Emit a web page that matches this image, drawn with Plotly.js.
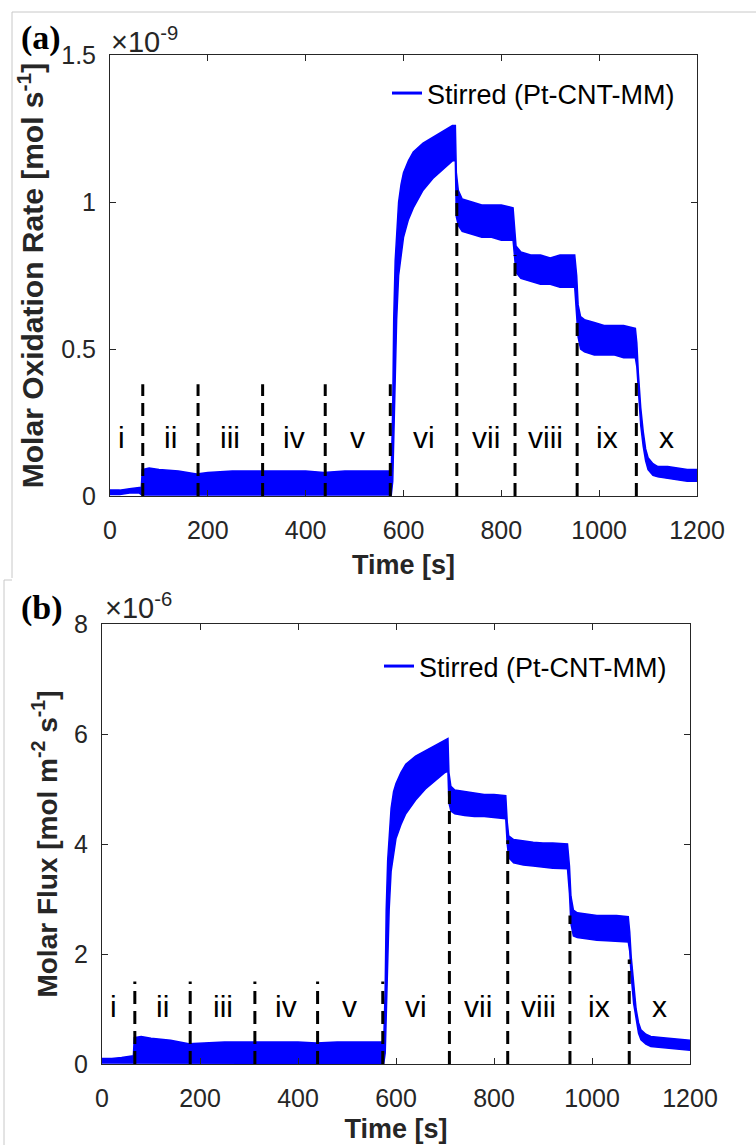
<!DOCTYPE html>
<html>
<head>
<meta charset="utf-8">
<script src="https://cdn.plot.ly/plotly-3.0.1.min.js"></script>
<style>html,body{margin:0;padding:0;background:#fff;}#chart{width:756px;height:1145px;}</style>
</head>
<body>
<div id="chart"></div>
<script>
// ---------- DATA ----------
// Time grid [s]
const timeA = [0,20,40,60,64,66,80,100,140,177,200,250,311,350,400,437,480,530,575,578,580,583,586,590,595,600,610,620,640,660,680,700,706,708,712,720,740,760,780,800,824,827,830,840,860,880,900,920,950,954,957,962,970,990,1010,1030,1050,1074,1077,1080,1085,1090,1095,1100,1110,1120,1140,1160,1180,1200];
// Panel (a): molar oxidation rate band, x1e-9 mol s^-1 (upper / lower edge of the noisy trace)
const rateUpper = [0.02,0.02,0.025,0.03,0.03,0.09,0.095,0.09,0.085,0.075,0.08,0.085,0.085,0.085,0.085,0.08,0.085,0.085,0.085,0.3,0.6,0.8,0.9,1.0,1.06,1.1,1.14,1.17,1.2,1.22,1.24,1.26,1.26,1.1,1.04,1.01,1.0,0.99,0.99,0.99,0.98,0.9,0.85,0.83,0.82,0.82,0.81,0.82,0.82,0.75,0.65,0.61,0.6,0.59,0.58,0.58,0.58,0.57,0.52,0.42,0.3,0.22,0.16,0.13,0.11,0.1,0.1,0.095,0.09,0.09];
const rateLower = [0.005,0.005,0.01,0.01,0.005,0.003,0.003,0.003,0.003,0.003,0.003,0.003,0.003,0.003,0.003,0.003,0.003,0.003,0.003,0.05,0.2,0.45,0.6,0.75,0.82,0.88,0.94,0.98,1.04,1.08,1.11,1.14,1.14,0.95,0.92,0.9,0.89,0.88,0.88,0.87,0.87,0.8,0.76,0.74,0.73,0.72,0.72,0.71,0.71,0.62,0.54,0.5,0.49,0.48,0.48,0.48,0.47,0.47,0.44,0.35,0.24,0.17,0.12,0.09,0.07,0.065,0.06,0.055,0.05,0.05];
// Panel (b): molar flux band, x1e-6 mol m^-2 s^-1
const timeB = [0,20,40,60,64,66,80,100,140,177,200,250,311,350,400,437,480,530,575,578,580,583,586,590,595,600,610,620,640,660,680,700,706,708,712,720,740,760,780,800,824,827,830,840,860,880,900,920,950,954,957,962,970,990,1010,1030,1050,1074,1077,1080,1085,1090,1095,1100,1110,1120,1140,1160,1180,1200];
const fluxUpper = [0.1,0.1,0.12,0.14,0.15,0.48,0.5,0.47,0.43,0.37,0.38,0.4,0.4,0.4,0.4,0.38,0.4,0.4,0.4,1.4,2.8,3.7,4.2,4.65,4.95,5.1,5.3,5.45,5.6,5.7,5.8,5.9,5.92,5.3,5.05,4.98,4.95,4.92,4.9,4.9,4.88,4.4,4.15,4.08,4.05,4.03,4.02,4.02,4.0,3.6,3.05,2.8,2.75,2.72,2.7,2.7,2.7,2.68,2.4,1.95,1.4,1.0,0.75,0.62,0.54,0.5,0.48,0.46,0.44,0.43];
const fluxLower = [0.02,0.02,0.02,0.02,0.02,0.01,0.01,0.01,0.01,0.01,0.01,0.01,0.01,0.01,0.01,0.01,0.01,0.01,0.01,0.2,0.9,2.1,2.8,3.5,3.8,4.1,4.35,4.55,4.8,5.0,5.15,5.3,5.32,4.75,4.6,4.55,4.52,4.5,4.5,4.48,4.46,4.0,3.75,3.66,3.62,3.6,3.58,3.56,3.55,3.1,2.55,2.33,2.3,2.27,2.25,2.24,2.23,2.22,2.05,1.6,1.1,0.8,0.56,0.44,0.36,0.32,0.3,0.28,0.26,0.25];
// Stage boundaries [s] and dashed-line heights
const boundaries = [67,180,312,440,573,709,828,955,1076];
const dashTopA = [0.38,0.38,0.38,0.38,0.38,1.04,0.82,0.6,0.4];
const dashTopB = [1.5,1.5,1.5,1.5,1.5,5.0,4.07,2.7,1.9];
// Stage labels
const stageLabels = ['i','ii','iii','iv','v','vi','vii','viii','ix','x'];
const stageX = [24,123,246,376,506,641,768,891,1015,1138];
const stageYA = 0.2;
const stageYB = 1.04;
const xTicks = [0,200,400,600,800,1000,1200];
const yTicksA = [0,0.5,1,1.5];
const yTicksB = [0,2,4,6,8];
const seriesName = 'Stirred (Pt-CNT-MM)';

// ---------- STYLE ----------
const W = 756, H = 1145;
const px = v => v / W, py = v => 1 - v / H;
const FONT = 'Liberation Sans, Arial, Helvetica, sans-serif';
const AX = '#262626';
const BLUE = '#0000ff';

function band(x, up, lo, xa, ya, legend) {
  return [
    {x: x, y: lo, xaxis: xa, yaxis: ya, type: 'scatter', mode: 'lines',
     line: {color: BLUE, width: 1.5}, showlegend: false, hoverinfo: 'skip'},
    {x: x, y: up, xaxis: xa, yaxis: ya, type: 'scatter', mode: 'lines', fill: 'tonexty',
     fillcolor: BLUE, line: {color: BLUE, width: 1.5}, showlegend: false, hoverinfo: 'skip'},
    // legend entry for the series (line sample only)
    {x: [null], y: [null], xaxis: xa, yaxis: ya, type: 'scatter', mode: 'lines',
     line: {color: BLUE, width: 3}, name: seriesName, showlegend: true, legend: legend, hoverinfo: 'skip'}
  ];
}

const traces = [].concat(
  band(timeA, rateUpper, rateLower, 'x', 'y', 'legend'),
  band(timeB, fluxUpper, fluxLower, 'x2', 'y2', 'legend2')
);

const shapes = [];
boundaries.forEach((b, i) => {
  shapes.push({type: 'line', xref: 'x', yref: 'y', x0: b, x1: b, y0: 0, y1: dashTopA[i],
    line: {color: '#000', width: 3, dash: '13px,7px'}});
  shapes.push({type: 'line', xref: 'x2', yref: 'y2', x0: b, x1: b, y0: 0, y1: dashTopB[i],
    line: {color: '#000', width: 3, dash: '13px,7px'}});
});
// light gray image frames
const G = {color: '#c8c8c8', width: 1};
shapes.push({type: 'line', xref: 'paper', yref: 'paper', x0: px(12), x1: 1, y0: py(12), y1: py(12), line: G});
shapes.push({type: 'line', xref: 'paper', yref: 'paper', x0: px(12), x1: px(12), y0: py(12), y1: py(578), line: G});
shapes.push({type: 'line', xref: 'paper', yref: 'paper', x0: px(4), x1: px(12), y0: py(580), y1: py(580), line: G});
shapes.push({type: 'line', xref: 'paper', yref: 'paper', x0: px(4), x1: px(4), y0: py(580), y1: 0, line: G});

const annotations = [];
stageLabels.forEach((s, i) => {
  annotations.push({xref: 'x', yref: 'y', x: stageX[i], y: stageYA, text: s, showarrow: false,
    font: {family: FONT, size: 30, color: '#000'}});
  annotations.push({xref: 'x2', yref: 'y2', x: stageX[i], y: stageYB, text: s, showarrow: false,
    font: {family: FONT, size: 30, color: '#000'}});
});
annotations.push({xref: 'paper', yref: 'paper', x: px(109), y: py(40), xanchor: 'left', yanchor: 'middle',
  text: '×10<sup>-9</sup>', showarrow: false, font: {family: FONT, size: 29, color: AX}});
annotations.push({xref: 'paper', yref: 'paper', x: px(103), y: py(606), xanchor: 'left', yanchor: 'middle',
  text: '×10<sup>-6</sup>', showarrow: false, font: {family: FONT, size: 29, color: AX}});
annotations.push({xref: 'paper', yref: 'paper', x: px(19), y: py(38), xanchor: 'left', yanchor: 'middle',
  text: '<b>(a)</b>', showarrow: false, font: {family: 'Liberation Serif, Times New Roman, serif', size: 34, color: '#000'}});
annotations.push({xref: 'paper', yref: 'paper', x: px(19), y: py(608), xanchor: 'left', yanchor: 'middle',
  text: '<b>(b)</b>', showarrow: false, font: {family: 'Liberation Serif, Times New Roman, serif', size: 34, color: '#000'}});

function xax(domain, anchor, standoff) {
  return {domain: domain, anchor: anchor, range: [0, 1200], tickvals: xTicks, ticks: 'inside', ticklen: 6,
    tickcolor: AX, showline: true, linecolor: AX, linewidth: 1, mirror: 'ticks', showgrid: false, zeroline: false,
    tickfont: {family: FONT, size: 25, color: AX}, ticklabelstandoff: 12,
    title: {text: '<b>Time [s]</b>', font: {family: FONT, size: 27, color: AX}, standoff: standoff}};
}
function yax(domain, anchor, range, ticks, title, tsize) {
  return {domain: domain, anchor: anchor, range: range, tickvals: ticks, ticks: 'inside', ticklen: 6,
    tickcolor: AX, showline: true, linecolor: AX, linewidth: 1, mirror: 'ticks', showgrid: false, zeroline: false,
    tickfont: {family: FONT, size: 25, color: AX}, ticklabelstandoff: 8,
    title: {text: title, font: {family: FONT, size: tsize, color: AX}, standoff: 8}};
}

const legendStyle = {xanchor: 'right', yanchor: 'top', bgcolor: 'rgba(0,0,0,0)',
  font: {family: FONT, size: 27, color: '#000'}};

const layout = {
  width: W, height: H, margin: {l: 0, r: 0, t: 0, b: 0}, paper_bgcolor: '#fff', plot_bgcolor: '#fff',
  showlegend: true,
  xaxis: xax([px(110), px(697)], 'y', 12),
  yaxis: yax([py(496), py(55)], 'x', [0, 1.5], yTicksA, '<b>Molar Oxidation Rate [mol s<sup>-1</sup>]</b>', 30),
  xaxis2: xax([px(102), px(690)], 'y2', 8),
  yaxis2: yax([py(1064), py(624)], 'x2', [0, 8], yTicksB, '<b>Molar Flux [mol m<sup>-2</sup> s<sup>-1</sup>]</b>', 28),
  legend: Object.assign({x: px(680), y: py(69)}, legendStyle),
  legend2: Object.assign({x: px(672), y: py(642)}, legendStyle),
  shapes: shapes, annotations: annotations
};

Plotly.newPlot('chart', traces, layout, {staticPlot: true});
</script>
</body>
</html>
